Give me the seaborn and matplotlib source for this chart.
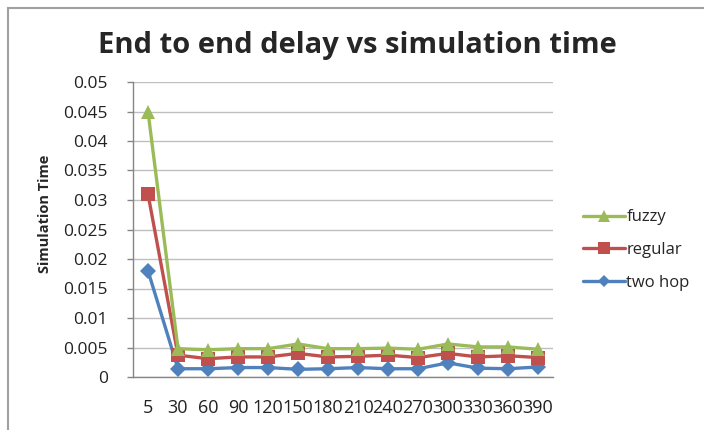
import matplotlib
matplotlib.use("Agg")
import matplotlib.pyplot as plt
import seaborn as sns
import pandas as pd
from matplotlib.patches import Rectangle
from matplotlib.lines import Line2D

categories = ["5", "30", "60", "90", "120", "150", "180", "210", "240", "270", "300", "330", "360", "390"]
fuzzy = [0.045, 0.0048, 0.0046, 0.0048, 0.0048, 0.0056, 0.0048, 0.0048, 0.0049, 0.0047, 0.0056, 0.0051, 0.0051, 0.0047]
regular = [0.031, 0.0037, 0.0031, 0.0034, 0.0034, 0.0040, 0.0034, 0.0035, 0.0037, 0.0033, 0.0040, 0.0034, 0.0036, 0.0033]
two_hop = [0.018, 0.0014, 0.0014, 0.0016, 0.0016, 0.0013, 0.0014, 0.0016, 0.0014, 0.0014, 0.0024, 0.0015, 0.0014, 0.0017]
y_ticks = [0, 0.005, 0.01, 0.015, 0.02, 0.025, 0.03, 0.035, 0.04, 0.045, 0.05]
y_tick_labels = ["0", "0.005", "0.01", "0.015", "0.02", "0.025", "0.03", "0.035", "0.04", "0.045", "0.05"]

sns.set_style("white")
plt.rcParams["font.family"] = ["Open Sans", "DejaVu Sans"]

rows = []
for name, vals in [("two hop", two_hop), ("regular", regular), ("fuzzy", fuzzy)]:
    for c, v in zip(categories, vals):
        rows.append({"time": c, "value": v, "series": name})
df = pd.DataFrame(rows)

colors = {"fuzzy": "#9BBB59", "regular": "#C0504D", "two hop": "#4F81BD"}
markers = {"fuzzy": "^", "regular": "s", "two hop": "D"}
sizes_m = {"fuzzy": 10, "regular": 10, "two hop": 8}

fig = plt.figure(figsize=(7.04, 4.30), dpi=100)
ax = fig.add_axes([133/704, 1 - 377/430, (553-133)/704, (377-82)/430])

for name in ["two hop", "regular", "fuzzy"]:
    sub = df[df["series"] == name]
    sns.lineplot(data=sub, x="time", y="value", ax=ax, color=colors[name],
                 marker=markers[name], markersize=sizes_m[name], markeredgewidth=0,
                 linewidth=2.4, sort=False, legend=False)

ax.set_xlim(-0.5, len(categories) - 0.5)
ax.set_ylim(0, 0.05)
ax.set_yticks(y_ticks)
ax.set_yticklabels(y_tick_labels)
ax.yaxis.grid(True, color="#BFBFBF", linewidth=1)
ax.xaxis.grid(False)
ax.set_axisbelow(True)
for s in ["top", "right"]:
    ax.spines[s].set_visible(False)
for s in ["left", "bottom"]:
    ax.spines[s].set_color("#868686")
    ax.spines[s].set_linewidth(1)
ax.tick_params(axis="y", which="major", length=4, width=1, color="#868686",
               labelsize=12.5, labelcolor="#222222", pad=14, left=True)
ax.tick_params(axis="x", length=0, labelsize=13, labelcolor="#222222", pad=16)
ax.set_xlabel("")
ax.set_ylabel("Simulation Time", fontsize=10.5, fontweight="bold")
ax.yaxis.set_label_coords(-(133 - 52) / 420, (377 - 214) / 295)

fig.suptitle("End to end delay vs simulation time", x=357/704, y=1 - 45/430,
             fontsize=21, fontweight="bold", va="center")

handles = [Line2D([], [], color=colors[n], marker=markers[n], markersize=sizes_m[n] - 2,
                  markeredgewidth=0, linewidth=2.4) for n in ["fuzzy", "regular", "two hop"]]
fig.legend(handles, ["fuzzy", "regular", "two hop"], loc="center left",
           bbox_to_anchor=(568/704, 1 - 250/430), frameon=False, fontsize=12,
           handlelength=2.5, handletextpad=0.1, labelspacing=1.0)

fig.patches.append(Rectangle((8/704, -0.1), 1.2, 1 - 8/430 + 0.1, transform=fig.transFigure,
                             fill=False, edgecolor="#A0A0A0", linewidth=1.5))

fig.savefig("out.png", dpi=100)
